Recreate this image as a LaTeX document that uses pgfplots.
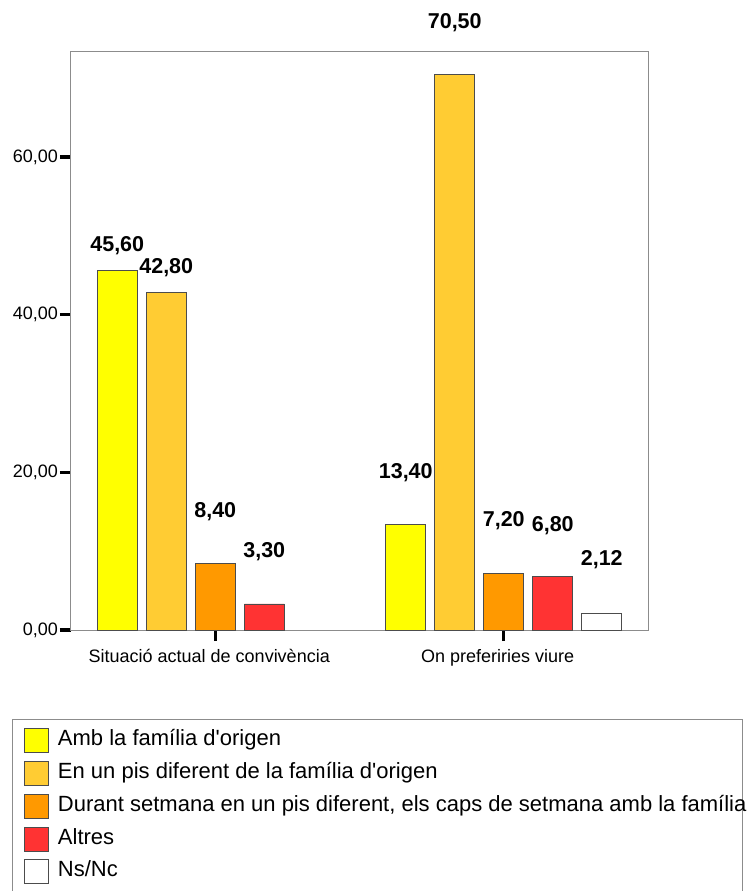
\documentclass[border=0pt]{standalone}
\usepackage{pgfplots}
\pgfplotsset{compat=1.18}
\usepackage{pgfplotstable}
\usepackage{fontspec}
\setmainfont{Liberation Sans}

\definecolor{cYellow}{HTML}{FFFF00}
\definecolor{cLight}{HTML}{FFCC33}
\definecolor{cOrange}{HTML}{FF9900}
\definecolor{cRed}{HTML}{FF3333}

% x = group (0 = situacio actual, 1 = on preferiries viure), off = label shift
\pgfplotstableread{
x y off
0 45.6 24.5
1 13.4 52
}\tabA
\pgfplotstableread{
x y off
0 42.8 25
1 70.5 52
}\tabB
\pgfplotstableread{
x y off
0 8.4 52
1 7.2 53
}\tabC
\pgfplotstableread{
x y off
0 3.3 52
1 6.8 51
}\tabD
\pgfplotstableread{
x y off
1 2.12 54
}\tabE

\begin{document}
\begin{tikzpicture}
\useasboundingbox (-71pt,-261pt) rectangle (676pt,630pt);
\begin{axis}[
  scale only axis, width=577pt, height=578pt,
  at={(0pt,0pt)}, anchor=south west,
  clip=false,
  ybar=9pt, bar width=40pt,
  xmin=-0.5, xmax=1.5, ymin=0, ymax=73.32,
  xtick={0,1},
  xticklabels={Situació actual de convivència, On preferiries viure},
  ytick={0,20,40,60},
  xtick pos=bottom, ytick pos=left,
  tick align=outside, major tick length=11pt,
  major tick style={black, line width=3.2pt},
  axis line style={black!45, line width=1pt},
  scaled y ticks=false,
  y tick label style={/pgf/number format/.cd, fixed, fixed zerofill, precision=2, use comma, assume math mode=true, /tikz/.cd, inner xsep=2pt},
  x tick label style={inner sep=0pt, yshift=-8pt, xshift=-6pt},
  tick label style={font=\fontsize{18}{21}\selectfont},
  nodes near coords={\pgfmathprintnumber[fixed, fixed zerofill, precision=2, use comma, assume math mode=true]{\pgfplotspointmeta}},
  every node near coord/.append style={font=\bfseries\fontsize{21.5}{24}\selectfont, anchor=center, yshift=\myoff, black},
  legend cell align=left,
  legend style={at={(rel axis cs:0,0)}, anchor=north west, xshift=-47pt, yshift=-98pt,
    draw=none, fill=none, inner sep=0pt, row sep=8pt, column sep=9pt,
    font=\fontsize{22}{26}\selectfont,
    nodes={inner sep=0pt, text height=17pt, text depth=7pt}},
  sq/.style={draw=black!70, line width=0.8pt,
    visualization depends on={\thisrow{off} \as \myoff},
    legend image code/.code={\draw[##1, draw=black!70, line width=0.8pt] (0pt,-12pt) rectangle (24pt,12pt);}},
]
\addplot[sq, fill=cYellow] table[x=x, y=y] {\tabA};
\addlegendentry{Amb la família d\textquotesingle origen}
\addplot[sq, fill=cLight] table[x=x, y=y] {\tabB};
\addlegendentry{En un pis diferent de la família d\textquotesingle origen}
\addplot[sq, fill=cOrange] table[x=x, y=y] {\tabC};
\addlegendentry{Durant setmana en un pis diferent, els caps de setmana amb la família}
\addplot[sq, fill=cRed] table[x=x, y=y] {\tabD};
\addlegendentry{Altres}
\addplot[sq, fill=white] table[x=x, y=y] {\tabE};
\addlegendentry{Ns/Nc}
\draw[black!45, line width=1pt] (rel axis cs:-0.101,-0.154) rectangle (rel axis cs:1.163,-0.4585);
\end{axis}
\end{tikzpicture}
\end{document}
